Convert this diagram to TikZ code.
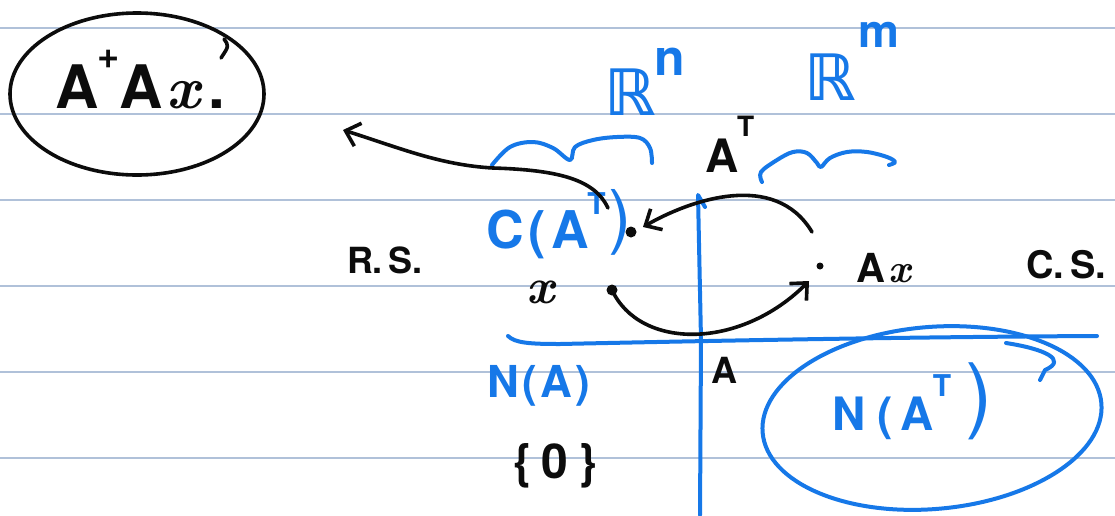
\documentclass[tikz,border=0pt]{standalone}
\usepackage{fontspec}
\setmainfont{TeX Gyre Heros}
\newfontfamily\dvfont{DejaVu Sans}
\newfontfamily\lmrfont{Latin Modern Roman}
\usetikzlibrary{arrows.meta}
\definecolor{inkblack}{RGB}{12,12,12}
\definecolor{penblue}{RGB}{22,120,232}
\definecolor{ruleline}{RGB}{176,193,217}
\newcommand\hsz[1]{\fontsize{#1}{#1}\selectfont\bfseries}
\newcommand\hx{{\lmrfont\bfseries\itshape x}}
\begin{document}
\begin{tikzpicture}[x=1pt,y=-1pt,
  rulestyle/.style={draw=ruleline,line width=1.4pt},
  blk/.style={draw=inkblack,line width=3.6pt,line cap=round,line join=round},
  blu/.style={draw=penblue,line width=4pt,line cap=round,line join=round},
  txt/.style={inner sep=0pt,outer sep=0pt,anchor=base west},
  btxt/.style={txt,text=inkblack},
  ltxt/.style={txt,text=penblue},
  barb/.style={-{Straight Barb[length=13pt,width=24pt,line width=3.6pt]}},
  dotstyle/.style={circle,fill=inkblack,inner sep=0pt,minimum size=#1}
]
\useasboundingbox (0,0) rectangle (1115,515);
\fill[white] (0,0) rectangle (1115,515);
\foreach \yy in {28,114,200,286,372,458} \draw[rulestyle] (0,\yy) -- (1115,\yy);

% circled A^+Ax
\node[btxt,font=\hsz{60}] (apax) at (55,108) {A\kern-1pt\raisebox{40pt}{\hsz{38}+}\kern0pt A\kern4pt\hx\kern8pt.};
\draw[blk] (137,94) ellipse [x radius=127pt, y radius=81pt];
\draw[blk] (224,39) .. controls (229,46) .. (221,58);

% R^n, R^m and braces
\node[ltxt,font=\hsz{64}] (rn) at (604,115) {{\dvfont\bfseries ℝ}\kern-1pt\raisebox{40pt}{\hsz{50}n}};
\node[ltxt,font=\hsz{64}] (rm) at (804,100) {{\dvfont\bfseries ℝ}\kern3pt\raisebox{53pt}{\hsz{46}m}};
\draw[blu] plot[smooth,tension=0.6] coordinates {(492,165) (510,147) (533,142) (553,148) (570,160) (575,147) (593,140) (617,137) (640,138) (650,148) (652,163)};
\draw[blu] plot[smooth,tension=0.6] coordinates {(762,182) (761,172) (777,160) (793,152) (807,153) (817,163) (821,167) (830,158) (847,152) (867,152) (887,157) (895,162) (889,165)};

% A^T label
\node[btxt,font=\hsz{46}] (atl) at (705,172) {A\kern-1pt\raisebox{36pt}{\hsz{28}T}};

% axes
\draw[blu] (705,207) -- (698,195) -- (701,340) -- (700,515);
\draw[blu] (508,336) .. controls (515,343) and (530,344) .. (560,344) .. controls (700,341) and (900,337) .. (1097,336);

% side labels
\node[btxt,font=\hsz{36}] (rs) at (347,273) {R.\,S.};
\node[btxt,font=\hsz{38}] (cs) at (1026,278) {C.\,S.};

% C(A^T)
\node[ltxt,font=\hsz{52}] (cat) at (486,248) {C\kern5pt(\kern6pt A\kern-2pt\raisebox{34pt}{\hsz{30}T}\kern3pt\raisebox{8pt}{\fontsize{70}{70}\selectfont\mdseries )}};

% points
\node[btxt,font=\hsz{50}] (xl) at (526,303) {\hx};
\node[btxt,font=\hsz{40}] (axl) at (856,282) {A\kern4pt\hx};
\node[dotstyle=11pt] (cdot) at (631,232) {};
\node[dotstyle=11pt] (xdot) at (612,290) {};
\node[dotstyle=7pt] (axdot) at (820,266) {};

% arrows
\coordinate (t1) at (809,281);
\draw[blk,barb] (xdot.center) .. controls (640,350) and (740,350) .. (t1);
\coordinate (s2) at (812,232);
\coordinate (t2) at (643,227);
\draw[blk,barb] (s2) .. controls (775,170) and (690,200) .. (t2);
\coordinate (s3) at (608,208);
\coordinate (m3) at (493,168);
\coordinate (t3) at (343,130);
\draw[blk,barb] (s3) .. controls (595,180) and (560,170) .. (m3) .. controls (440,165) and (400,148) .. (t3);

% lower labels
\node[btxt,font=\hsz{36}] (alab) at (711,383) {A};
\node[ltxt,font=\hsz{44}] (na) at (487,397) {N\kern4pt(\kern3pt A\kern3pt)};
\node[btxt,font=\hsz{48}] (zero) at (513,478) {\{\kern10pt0\kern10pt\}};

% N(A^T) circled
\node[ltxt,font=\hsz{46}] (nat) at (832,430) {N\kern12pt(\kern8pt A\kern-1pt\raisebox{34pt}{\hsz{30}T}\kern14pt\raisebox{8pt}{\fontsize{82}{82}\selectfont\mdseries )}};
\draw[blu, rotate around={5:(932,418)}] (932,418) ellipse [x radius=170pt, y radius=91pt];
\draw[blu] (1006,343) .. controls (1045,349) and (1068,360) .. (1045,370) -- (1040,380);
\end{tikzpicture}
\end{document}
